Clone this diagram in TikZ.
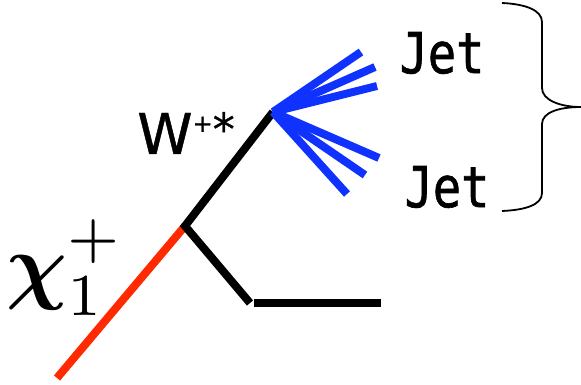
\documentclass[tikz,border=0pt]{standalone}
\usepackage{amsmath}
\usepackage{fontspec}
\usepackage{xcolor}
\newfontfamily\jetfont[FakeBold=1.2]{DejaVu Sans Mono}
\newfontfamily\wfont[FakeBold=0.8]{DejaVu Sans}
\usetikzlibrary{arrows.meta,calc,positioning}
\definecolor{lineblue}{HTML}{0F32FF}
\definecolor{linered}{HTML}{FF2A00}
\tikzset{
  fermion/.style={line width=8pt,black},
  chargino/.style={line width=8pt,linered},
  quark/.style={line width=8pt,lineblue},
  bracket/.style={line width=1.8pt,black},
  jetlabel/.style={font=\jetfont\fontsize{47}{47}\selectfont,inner sep=0pt,yscale=1.2}
}
\begin{document}
\begin{tikzpicture}[x=1pt,y=-1pt]
\useasboundingbox (0,0) rectangle (581,385);
\coordinate (start) at (57,378);
\coordinate (split) at (185,226);
\coordinate (wend) at (273,112);
\coordinate (knee) at (250,303);
\coordinate (nustart) at (254,303);
\coordinate (nuend) at (381,303);
\draw[chargino] (start)--(split);
\draw[fermion] (wend)--(split)--(knee);
\draw[fermion] (nustart)--(nuend);
% blue spray
\draw[quark] (wend)--(361,52);
\draw[quark] (wend)--(375,67);
\draw[quark] (wend)--(377,86);
\draw[quark] (wend)--(379,158);
\draw[quark] (wend)--(365,175);
\draw[quark] (wend)--(347,194);
\node[jetlabel] (jettop) at (442,53){Jet};
\node[jetlabel] (jetbot) at (447,187){Jet};
\node[inner sep=0pt] (wlabel) at (186,133){\wfont\fontsize{56}{56}\selectfont W\raisebox{22pt}{\fontsize{24}{24}\selectfont +}\raisebox{9pt}{\fontsize{44}{44}\selectfont *}};
\node[inner sep=0pt,scale=8.5] (chilabel) at (65,268){$\boldsymbol{\chi}_1^+$};
% brace
\draw[bracket] (502,3) .. controls (525,4) and (542,10) .. (542,22)--(542,88)
  .. controls (542,100) and (560,107) .. (581,107);
\draw[bracket] (581,107) .. controls (560,107) and (542,112) .. (542,124)--(542,193)
  .. controls (542,205) and (525,210) .. (502,211);
\end{tikzpicture}
\end{document}
